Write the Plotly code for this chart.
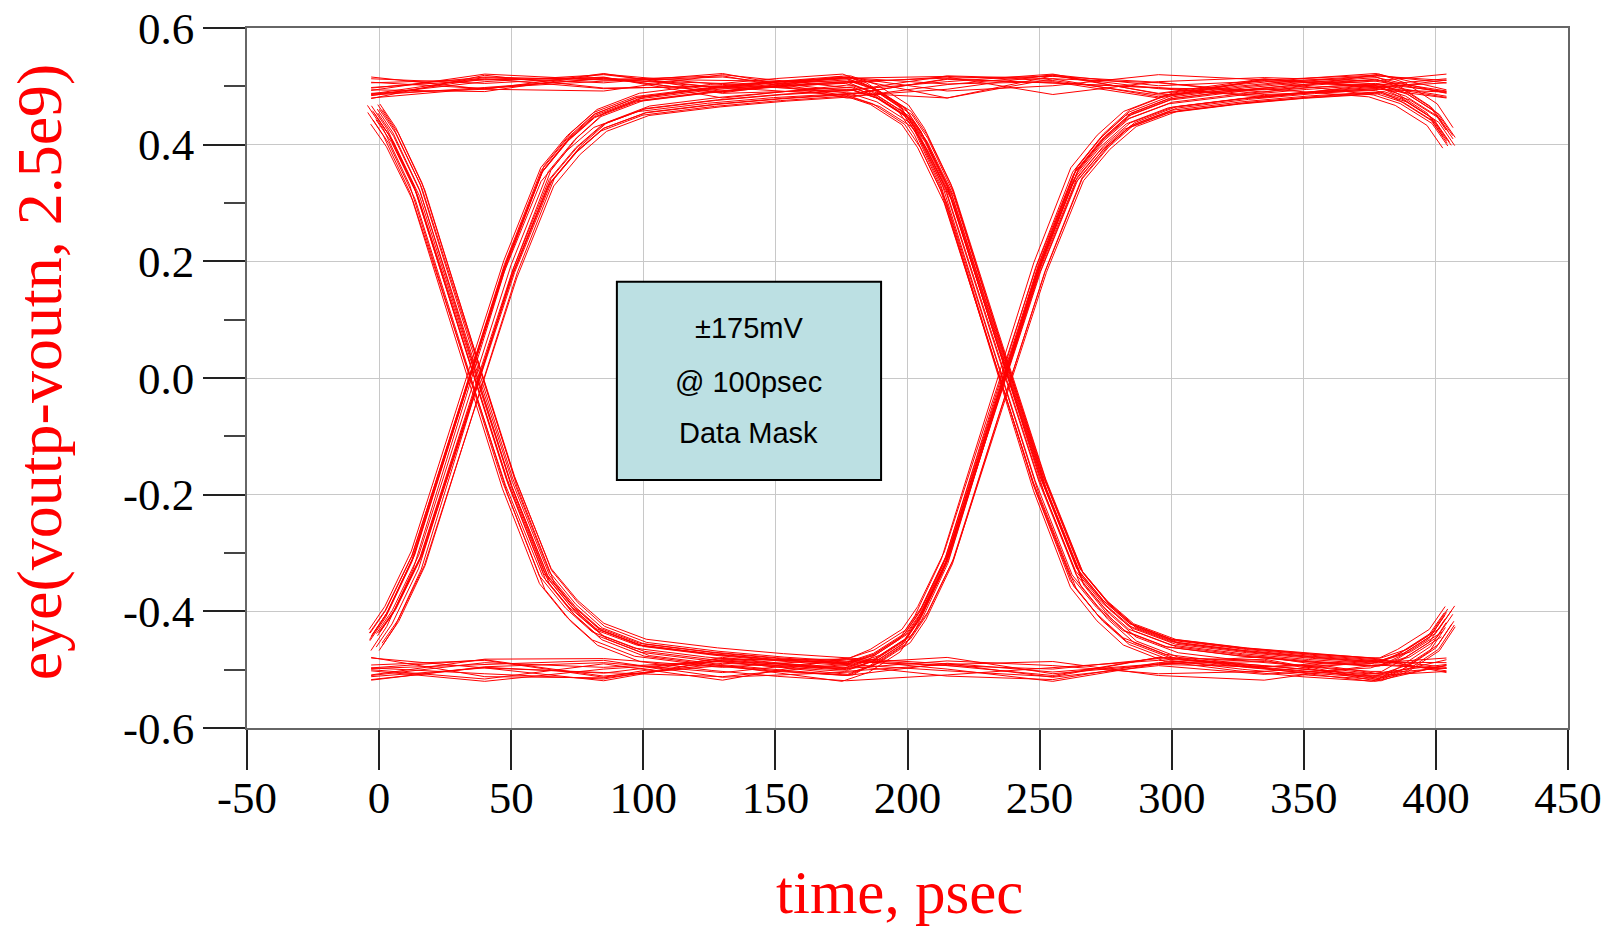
import numpy as np
import plotly.graph_objects as go

# ---- data -------------------------------------------------------------
# bit stream folded into 400 ps windows (two 200 ps bits per window)
STREAM_BITS = ("10110010011101000110101110000110110010100111100011010100110110"
               "001011101100010011110101100100011101001101100011010111001010")

# nominal crossing times inside a window (ps) and per-crossing jitter (ps)
CROSS_PS = [36.5, 237.0, 437.5]
CROSS_JITTER_PS = [
    0.8, -1.2, 1.5, -0.4, 2.1, -1.8, 0.3, 1.1, -2.3, 0.6,
    -0.9, 1.9, -1.5, 0.2, 2.4, -0.7, 1.3, -2.0, 0.9, -0.3,
    1.6, -1.1, 0.5, -2.4, 1.0, 2.2, -0.6, -1.6, 0.4, 1.7,
    -1.0, 0.1, -2.1, 1.4, -0.2, 2.0, -1.4, 0.7, -0.8, 1.2,
    -1.9, 0.0, 2.3, -0.5, 1.8, -1.3, 0.6, -2.2, 1.1, -0.1,
    1.5, -1.7, 0.9, 2.5, -0.9, 0.3, -1.2, 1.6, -2.0, 0.8,
    -0.4, 1.2, -2.6, 0.4, 2.8, -1.5, -0.3, 1.9, -2.9, 0.7,
    2.4, -1.1, 0.2, 3.0, -2.2, 1.4, -0.6, 2.1, -1.8, 0.9,
    -3.0, 1.7, 0.5, -2.5, 2.6, -0.8, 1.0, -1.4, 2.9, -0.2,
    -2.7, 0.6, 1.8, -1.9, 0.1, 2.3, -1.0, -2.4, 1.5, 0.3,
    -0.7, 2.7, -1.6, 0.8, -2.8, 1.1, 2.0, -0.5, -1.3, 2.5,
    -2.1, 0.0, 1.6, -0.9, 2.2, -2.3, 1.3, -0.1, -1.7, 2.6,
    -1.2,
]

# edge shape: time from crossing (ps) and normalised level (+1 start, -1 end)
EDGE_TAU_PS = [-60, -50, -38, -32, -22, -5, 0, 13, 27, 37, 47, 63, 90, 115, 140]
EDGE_SHAPE = [1.0, 0.97, 0.9, 0.82, 0.63, 0.14, 0.0, -0.37, -0.69, -0.8,
              -0.88, -0.935, -0.965, -0.985, -1.0]

# settled-level sample times (ps) and level deviations per window (mV)
FLAT_T_PS = [-3, 40, 85, 130, 177, 215, 255, 295, 335, 377, 404]
LEVEL_MV = [
    [12, -6, 4, 18, -10, 6, -15, 9, 20, -4, 11],
    [-14, 8, 20, -3, 5, -18, 2, 14, -9, 16, -2],
    [3, 17, -11, 7, -20, 12, 19, -6, 1, -13, 8],
    [-8, -19, 6, 13, 9, -2, -12, 21, 5, 10, -16],
    [19, 2, -7, -16, 15, 4, 8, -20, 12, -1, 6],
    [-2, 11, 15, -12, -6, 20, -9, 3, -17, 7, 18],
    [7, -15, -1, 21, 11, -7, 16, -11, 8, 19, -5],
    [-18, 5, 12, -5, 17, 1, -20, 10, 14, -8, 3],
    [15, 20, -9, 2, -14, 13, 5, -2, -19, 4, 21],
    [-5, -10, 18, 9, -1, -16, 11, 17, 6, -12, -7],
    [10, 14, -17, -8, 20, 8, -4, -14, 16, 2, 13],
    [-20, -3, 9, 16, -8, 18, 13, 6, -10, 21, 0],
    [4, 19, 1, -19, 7, -11, -17, 12, 22, -6, 9],
    [21, -12, -14, 11, 2, 15, 7, -7, -3, 14, -18],
    [-11, 6, 22, -6, -17, -5, 20, 1, 9, -15, 15],
    [8, -21, 3, 19, 13, 9, -1, -18, 11, 5, -9],
    [-16, 13, -4, 1, 18, -13, 15, 20, -12, 17, 4],
    [2, 9, 16, -13, -4, 21, -8, 4, 18, -2, -14],
    [17, -8, -20, 8, 10, 3, 12, -13, -5, 12, 19],
    [-7, 21, 7, 14, -19, -9, 4, 16, 2, -20, 7],
    [13, -1, -12, -20, 6, 16, -14, 8, 15, 9, -11],
    [-3, 16, 11, 5, -11, -20, 18, -4, -16, 1, 16],
    [20, -17, 5, -10, 14, 7, 1, 19, 7, -10, -3],
    [-12, 3, -19, 17, 1, 11, -11, -9, 13, 18, 10],
    [6, 12, 14, -2, -15, -4, 9, 13, -7, -17, 22],
    [-19, -14, 8, 12, 16, 19, -6, -16, 20, 6, -6],
    [9, 7, -2, -15, -7, -14, 21, 2, -1, 13, 12],
    [-9, 18, 19, 4, 19, 5, -3, 11, 10, -4, -20],
    [16, -5, -8, 20, -2, -10, 6, -19, 4, 20, 1],
    [-1, 10, 13, -9, 8, 14, 17, 7, -14, -7, 14],
    [5, -13, 17, 10, -3, 9, 14, -10, -18, 8, 2],
    [-17, 4, -6, 19, 12, -15, 3, 18, 7, -9, 13],
    [11, 20, 2, -14, -9, 6, -19, -1, 15, 11, -8],
    [-6, -9, 21, 3, 14, 17, 10, -15, -4, -18, 5],
    [18, 1, -15, -7, 4, -12, 22, 5, 9, 15, -12],
    [-13, 15, 6, 22, -16, 2, -5, 13, 19, -11, 17],
    [0, -16, 10, -18, 20, 10, -13, 7, -8, 3, -1],
    [14, 7, -21, 6, -12, -6, 8, -17, 17, 12, 20],
    [-10, 12, 4, 15, 3, 19, -16, 2, -13, -5, -10],
    [7, -4, 14, -11, 16, -8, 1, 20, 11, 19, 6],
    [-21, 19, -3, 0, -5, 14, 16, -7, 3, -14, 11],
    [12, -11, 18, 13, 8, -17, -2, 15, -20, 7, -4],
    [-4, 6, -10, 20, -18, 3, 19, -12, 13, -2, 18],
    [19, -18, 9, -4, 11, 21, -7, 9, 5, 16, -15],
    [-8, 14, 20, 8, -1, -19, 12, -5, -11, 10, 2],
    [3, -7, -16, 17, 18, 7, -10, 21, 16, -19, 9],
    [16, 10, 7, -17, -13, 12, 6, -3, -6, 4, -17],
    [-15, -2, 13, 10, 7, -3, -18, 14, 21, 14, 15],
    [10, 17, -8, -5, 21, 16, 9, -9, -16, -7, 3],
    [-2, -20, 1, 14, -8, -9, 20, 4, 8, 22, -6],
    [13, 5, 16, -20, 2, 5, -11, 18, -2, -12, 19],
    [-19, 11, -12, 7, 15, -20, 13, -18, 12, 5, -13],
    [6, -14, 19, 3, -10, 11, -4, 10, 18, -16, 7],
    [20, 3, -5, -12, 9, -7, 17, -6, -9, 9, 21],
    [-7, 21, 11, 18, -20, 20, 2, 16, 6, -3, -9],
    [1, -10, -18, -1, 13, -14, -15, 3, -17, 20, 12],
    [15, 8, 5, 12, -6, 8, 21, -13, 10, 1, -19],
    [-12, -5, 22, -9, 17, 1, -8, 11, 14, -20, 8],
    [8, 16, -13, 21, 0, -16, 7, -20, 1, 17, -5],
    [-16, 1, 3, -15, 10, 15, 11, 6, -15, -10, 16],
]

HIGH_V, LOW_V = 0.5, -0.5

X_TICKS = [-50, 0, 50, 100, 150, 200, 250, 300, 350, 400, 450]
X_TICK_TEXT = ["-50", "0", "50", "100", "150", "200", "250", "300", "350", "400", "450"]
Y_TICKS = [-0.6, -0.4, -0.2, 0.0, 0.2, 0.4, 0.6]
Y_TICK_TEXT = ["-0.6", "-0.4", "-0.2", "0.0", "0.2", "0.4", "0.6"]
Y_MINOR = [-0.5, -0.3, -0.1, 0.1, 0.3, 0.5]

MASK_T = [90, 190]
MASK_V = [-0.175, 0.165]
MASK_LINES = ["±175mV", "@ 100psec", "Data Mask"]

# ---- fold the waveform into eye traces --------------------------------
flat_t = np.array(FLAT_T_PS, dtype=float)
x_lo, x_hi = -5.0, 408.0
n_win = (len(STREAM_BITS) - 2) // 2

xs, ys = [], []
for w in range(n_win):
    bits = [int(c) for c in STREAM_BITS[2 * w: 2 * w + 4]]
    offs = np.array(LEVEL_MV[w], dtype=float) / 1000.0
    cross = [CROSS_PS[k] + CROSS_JITTER_PS[2 * w + k] for k in range(3)]

    def bit_at(t):
        for k in range(3):
            if t < cross[k]:
                return bits[k]
        return bits[3]

    def level(bit, j):
        return (HIGH_V if bit else LOW_V) + offs[j]

    pts, spans = [], []
    for k in range(3):
        if bits[k] == bits[k + 1]:
            continue
        j_from = int(np.argmin(np.abs(flat_t - (cross[k] + EDGE_TAU_PS[0]))))
        j_to = int(np.argmin(np.abs(flat_t - (cross[k] + EDGE_TAU_PS[-1]))))
        v_from = level(bits[k], j_from)
        v_to = level(bits[k + 1], j_to)
        edge = []
        for tau, s in zip(EDGE_TAU_PS, EDGE_SHAPE):
            x = cross[k] + tau
            if x_lo <= x <= x_hi:
                edge.append((x, v_to + (v_from - v_to) * (1 + s) / 2))
        if edge:
            a = edge[0][0] - 1
            b = edge[-1][0] + 1
            # an edge cut by the window edge owns the rest of the window
            if cross[k] + EDGE_TAU_PS[0] < x_lo:
                a = -np.inf
            if cross[k] + EDGE_TAU_PS[-1] > x_hi:
                b = np.inf
            spans.append((a, b))
            pts.extend(edge)
    for j, t in enumerate(FLAT_T_PS):
        if any(a <= t <= b for a, b in spans):
            continue
        pts.append((t, level(bit_at(t), j)))
    pts.sort(key=lambda p: p[0])
    xs.extend([p[0] for p in pts] + [None])
    ys.extend([p[1] for p in pts] + [None])

# ---- figure -------------------------------------------------------------
fig = go.Figure()
fig.add_trace(go.Scatter(
    x=xs, y=ys, mode="lines", connectgaps=False, hoverinfo="skip",
    line=dict(color="#ff0000", width=1), showlegend=False,
))

serif = "Liberation Serif, Times New Roman, serif"
tick_font = dict(family=serif, size=45, color="black")

fig.update_xaxes(
    range=[-50, 450], tickmode="array", tickvals=X_TICKS, ticktext=X_TICK_TEXT,
    ticks="outside", ticklen=40, tickwidth=1.5, tickcolor="#222",
    showline=True, linecolor="#666", linewidth=1.5, mirror=True,
    showgrid=True, gridcolor="#c8c8c8", gridwidth=1, zeroline=False,
    tickfont=tick_font, automargin=False, ticklabelstandoff=-11,
)
fig.update_yaxes(
    range=[-0.6, 0.6], tickmode="array", tickvals=Y_TICKS, ticktext=Y_TICK_TEXT,
    ticks="outside", ticklen=42, tickwidth=1.5, tickcolor="#222",
    minor=dict(tickmode="array", tickvals=Y_MINOR, ticks="outside",
               ticklen=21, tickwidth=1.5, tickcolor="#444", showgrid=False),
    showline=True, linecolor="#666", linewidth=1.5, mirror=True,
    showgrid=True, gridcolor="#c8c8c8", gridwidth=1, zeroline=False,
    tickfont=tick_font, automargin=False,
)

fig.add_shape(
    type="rect", xref="x", yref="y",
    x0=MASK_T[0], x1=MASK_T[1], y0=MASK_V[0], y1=MASK_V[1],
    fillcolor="#bce0e3", line=dict(color="black", width=2),
)
for text, yv in zip(MASK_LINES, [0.0857, -0.007, -0.094]):
    fig.add_annotation(
        x=sum(MASK_T) / 2, y=yv, xref="x", yref="y", text=text, showarrow=False,
        font=dict(family="Liberation Sans, Arial, sans-serif", size=29, color="black"),
        xanchor="center", yanchor="middle",
    )

fig.add_annotation(
    x=0.494, y=-0.2343, xref="paper", yref="paper", text="time, psec",
    showarrow=False, xanchor="center", yanchor="middle",
    font=dict(family=serif, size=61, color="#ff0000"),
)
fig.add_annotation(
    x=-0.157, y=0.509, xref="paper", yref="paper", text="eye(voutp-voutn, 2.5e9)",
    showarrow=False, xanchor="center", yanchor="middle", textangle=-90,
    font=dict(family=serif, size=64, color="#ff0000"),
)

fig.update_layout(
    width=1610, height=931,
    margin=dict(l=247, r=42, t=28, b=203),
    paper_bgcolor="white", plot_bgcolor="white",
)

fig.write_html("out.html")
